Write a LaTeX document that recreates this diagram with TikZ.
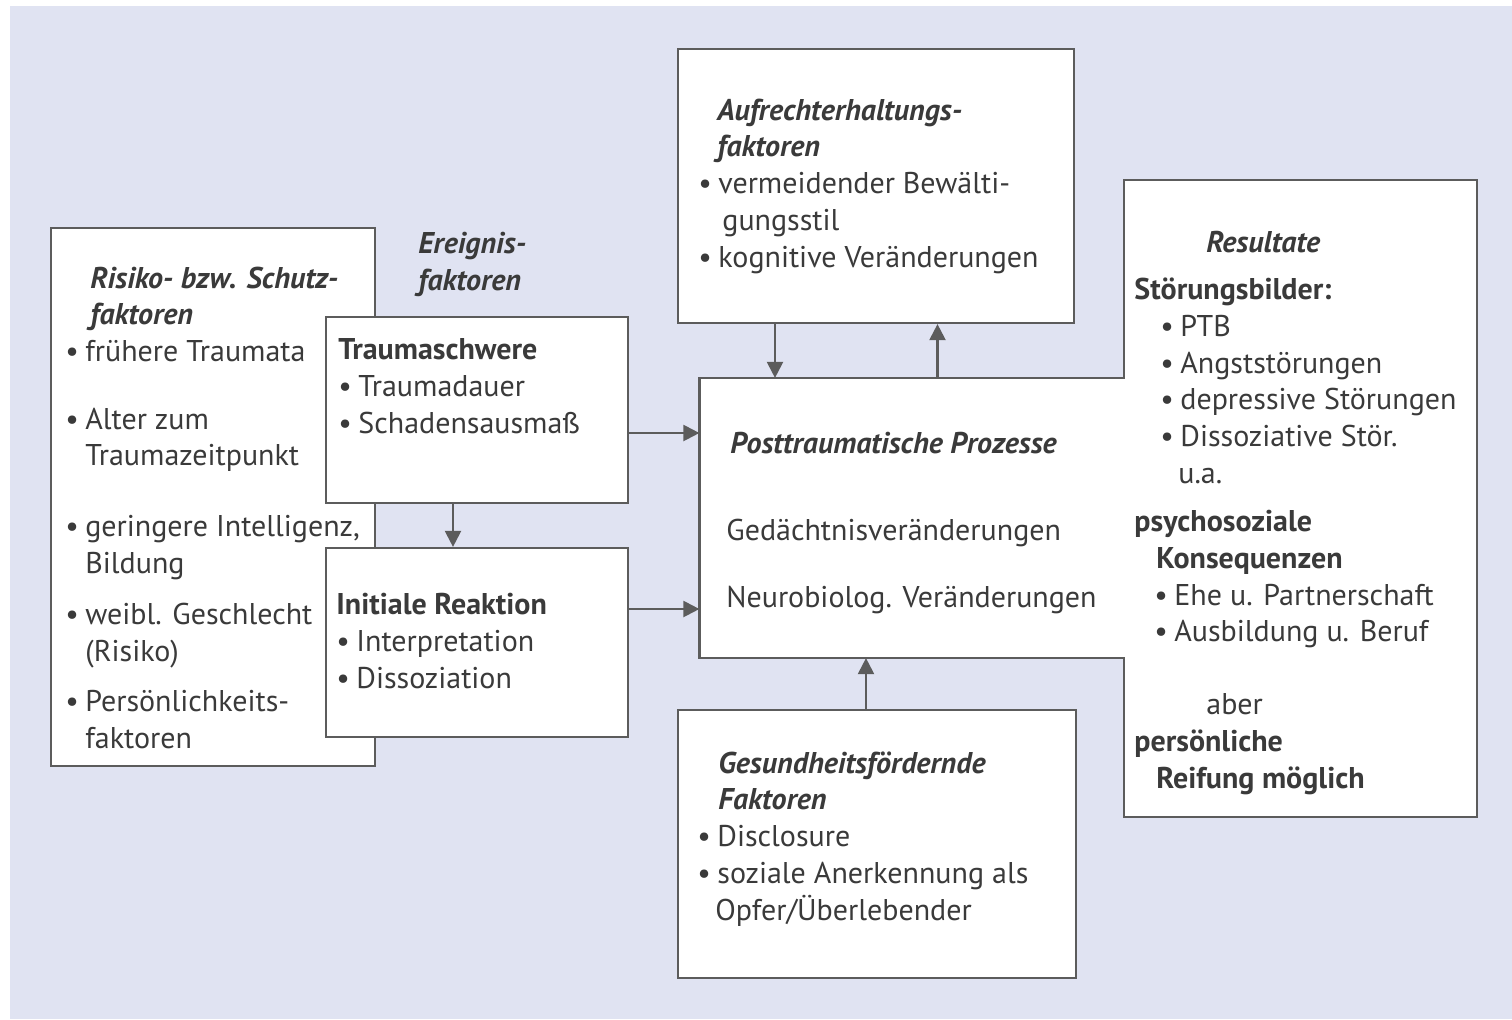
\documentclass[tikz,border=0pt]{standalone}
\usepackage{fontspec}
\setmainfont{PT Sans}
\usepackage{xcolor}
\usepackage{tikz}
\usetikzlibrary{arrows.meta,calc}

\definecolor{bgblue}{HTML}{E0E3F2}
\definecolor{txtgray}{HTML}{3A3A3A}
\definecolor{linegray}{HTML}{5C5C5C}

\newcommand{\bul}{\makebox[10pt][l]{\textbullet}}
\newcommand{\ttl}[1]{\textbf{\textit{#1}}}

\begin{document}
\begin{tikzpicture}[x=0.5pt, y=-0.5pt,
    box/.style={draw=linegray, line width=1.1pt, fill=white, inner sep=0pt},
    txt/.style={anchor=base west, align=left, inner sep=0pt, text=txtgray,
      font=\fontsize{15}{18.35}\selectfont},
    arr/.style={draw=linegray, line width=1.1pt, -{Triangle[length=8pt, width=8pt]}}]
    \useasboundingbox (0,0) rectangle (1512,1019);
    \fill[bgblue] (10,6) rectangle (1512,1019);

    % left column (text nodes sit on the baseline of their last line)
    \node[box, minimum width=162pt, minimum height=269pt] (risk) at (213,497) {};
    \node[txt] (risktxt) at (65,748) {\hspace*{12.5pt}\ttl{Risiko- bzw. Schutz-}\\
      \hspace*{12.5pt}\ttl{faktoren}\\
      \bul frühere Traumata\\[15.5pt]
      \bul Alter zum\\
      \hspace*{10pt}Traumazeitpunkt\\[17pt]
      \bul geringere Intelligenz,\\
      \hspace*{10pt}Bildung\\[7.5pt]
      \bul weibl. Geschlecht\\
      \hspace*{10pt}(Risiko)\\[6.5pt]
      \bul Persönlichkeits-\\
      \hspace*{10pt}faktoren};
    \node[txt] (event) at (418,290) {\ttl{Ereignis-}\\ \ttl{faktoren}};
    \node[box, minimum width=151pt, minimum height=93pt] (sev) at (477,410) {};
    \node[txt] (sevtxt) at (338,433) {\textbf{Traumaschwere}\\
      \bul Traumadauer\\ \bul Schadensausmaß};
    \node[box, minimum width=151pt, minimum height=94.5pt] (init) at (477,642.5) {};
    \node[txt] (inittxt) at (336,688) {\textbf{Initiale Reaktion}\\
      \bul Interpretation\\ \bul Dissoziation};

    % middle column
    \node[box, minimum width=198pt, minimum height=137pt] (maint) at (876,186) {};
    \node[txt] (mainttxt) at (698,267) {\hspace*{9.5pt}\ttl{Aufrechterhaltungs-}\\
      \hspace*{9.5pt}\ttl{faktoren}\\
      \bul vermeidender Bewälti-\\
      \hspace*{12pt}gungsstil\\
      \bul kognitive Veränderungen};
    \node[box, minimum width=199pt, minimum height=134pt] (health) at (877,844) {};
    \node[txt] (healthtxt) at (697,920) {\hspace*{10.5pt}\ttl{Gesundheitsfördernde}\\
      \hspace*{10.5pt}\ttl{Faktoren}\\
      \bul Disclosure\\
      \bul soziale Anerkennung als\\
      \hspace*{9pt}Opfer/Überlebender};

    % process and outcome share one outline
    \node[box, draw=none, minimum width=175.5pt, minimum height=317.5pt] (res) at (1300.5,498.5) {};
    \node[box, draw=none, minimum width=213pt, minimum height=139pt] (proc) at (913.5,518) {};
    \draw[linegray, line width=1.1pt] (proc.south west) -- (proc.north west)
      -- (res.west |- proc.north) -- (res.north west) -- (res.north east)
      -- (res.south east) -- (res.south west) -- (res.west |- proc.south) -- cycle;
    \node[txt] (proctxt) at (726,607) {\hspace*{2pt}\ttl{Posttraumatische Prozesse}\\[25pt]
      Gedächtnisveränderungen\\[15pt]
      Neurobiolog. Veränderungen};
    \node[txt] (restxt) at (1134,788) {\hspace*{36pt}\ttl{Resultate}\\[5pt]
      \textbf{Störungsbilder:}\\
      \hspace*{13pt}\bul PTB\\
      \hspace*{13pt}\bul Angststörungen\\
      \hspace*{13pt}\bul depressive Störungen\\
      \hspace*{13pt}\bul Dissoziative Stör.\\
      \hspace*{22pt}u.a.\\[6pt]
      \textbf{psychosoziale}\\
      \hspace*{11pt}\textbf{Konsequenzen}\\
      \hspace*{10pt}\bul Ehe u. Partnerschaft\\
      \hspace*{10pt}\bul Ausbildung u. Beruf\\[18pt]
      \hspace*{36pt}aber\\
      \textbf{persönliche}\\
      \hspace*{11pt}\textbf{Reifung möglich}};

    % arrows
    \draw[arr] ([yshift=-11.5pt]sev.east) -- ([yshift=-11.5pt]sev.east -| proc.west);
    \draw[arr] ([yshift=16.75pt]init.east) -- ([yshift=16.75pt]init.east -| proc.west);
    \draw[arr] ([xshift=-12pt]sev.south) -- ([xshift=-12pt]init.north);
    \draw[arr] ([xshift=-50.5pt]maint.south) -- ([xshift=-50.5pt]maint.south |- proc.north);
    \draw[arr] ([xshift=12pt]proc.north) -- ([xshift=12pt]proc.north |- maint.south);
    \draw[arr] ([xshift=-5.5pt]health.north) -- ([xshift=-5.5pt]health.north |- proc.south);
  \end{tikzpicture}
\end{document}
